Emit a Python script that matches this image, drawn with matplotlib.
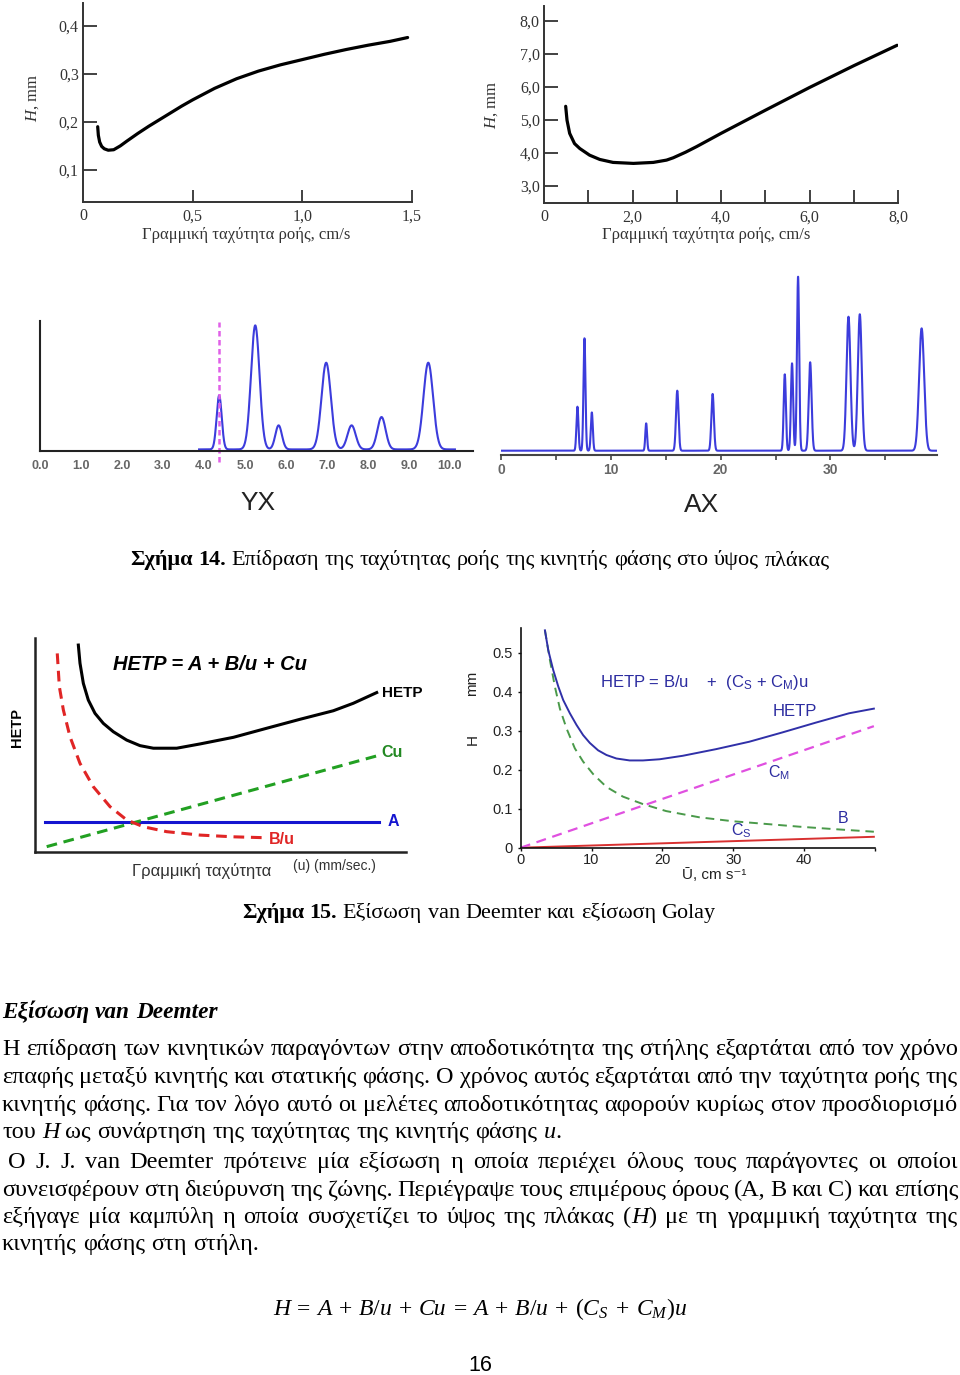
import numpy as np
import matplotlib
matplotlib.use("Agg")
import matplotlib.pyplot as plt
from matplotlib.transforms import Affine2D

plt.rcParams['mathtext.fontset'] = 'custom'
plt.rcParams['mathtext.rm'] = 'Liberation Serif'
plt.rcParams['mathtext.it'] = 'Liberation Serif:italic'
plt.rcParams['mathtext.bf'] = 'Liberation Serif:bold'
plt.rcParams['mathtext.sf'] = 'Liberation Sans'

# ============================ DATA ============================
# Fig.14 top-left: H (mm) vs linear flow rate (cm/s)
lc_u = [0.067, 0.070, 0.076, 0.085, 0.097, 0.115, 0.14, 0.17, 0.20, 0.25, 0.30, 0.35, 0.40, 0.45,
        0.50, 0.60, 0.70, 0.80, 0.90, 1.00, 1.10, 1.20, 1.30, 1.40, 1.48]
lc_h = [0.190, 0.172, 0.158, 0.149, 0.144, 0.141, 0.142, 0.150, 0.160, 0.176, 0.191, 0.205, 0.219, 0.233,
        0.246, 0.270, 0.290, 0.306, 0.319, 0.330, 0.341, 0.351, 0.360, 0.368, 0.376]
lc_xticks = [0, 0.5, 1.0, 1.5]
lc_xlabels = ['0', '0,5', '1,0', '1,5']
lc_yticks = [0.1, 0.2, 0.3, 0.4]
lc_ylabels = ['0,1', '0,2', '0,3', '0,4']

# Fig.14 top-right: H (mm) vs linear flow rate (cm/s)
gc_u = [0.49, 0.52, 0.58, 0.69, 0.81, 1.03, 1.26, 1.56, 2.02, 2.47, 2.77, 2.92, 3.20, 3.45,
        4.0, 5.0, 6.0, 7.0, 7.98]
gc_h = [5.41, 4.99, 4.59, 4.28, 4.13, 3.93, 3.80, 3.71, 3.68, 3.71, 3.78, 3.85, 4.02, 4.19,
        4.59, 5.29, 5.98, 6.64, 7.26]
gc_xticks = [0, 2.0, 4.0, 6.0, 8.0]
gc_xlabels = ['0', '2,0', '4,0', '6,0', '8,0']
gc_xminor = [1, 3, 5, 7]
gc_yticks = [3.0, 4.0, 5.0, 6.0, 7.0, 8.0]
gc_ylabels = ['3,0', '4,0', '5,0', '6,0', '7,0', '8,0']

# Chromatogram YX: peak retention, height, width
yx_pos = [4.37, 5.25, 5.82, 6.98, 7.60, 8.33, 9.47]
yx_hgt = [0.415, 0.954, 0.185, 0.667, 0.185, 0.249, 0.667]
yx_wid = [0.062, 0.104, 0.080, 0.114, 0.100, 0.100, 0.117]
yx_range = [3.88, 10.12]
yx_marker = 4.37
yx_ticks = [0, 1, 2, 3, 4, 5, 6, 7, 8, 9, 10]
yx_labels = ['0.0', '1.0', '2.0', '3.0', '4.0', '5.0', '6.0', '7.0', '8.0', '9.0', '10.0']

# Chromatogram AX
ax_pos = [6.96, 7.60, 8.27, 13.22, 16.05, 19.27, 25.84, 26.50, 27.05, 28.15, 31.64, 32.67, 38.30]
ax_hgt = [0.253, 0.646, 0.220, 0.157, 0.345, 0.326, 0.439, 0.502, 1.000, 0.508, 0.770, 0.784, 0.703]
ax_wid = [0.09, 0.09, 0.09, 0.08, 0.115, 0.115, 0.10, 0.10, 0.10, 0.13, 0.18, 0.18, 0.23]
ax_range = [0, 39.7]
ax_ticks = [0, 10, 20, 30]
ax_minor = [5, 15, 25, 35]

# Fig.15 left: van Deemter terms (arbitrary units)
vd_A_u = [0.27, 9.28]
vd_A = [1.42, 1.42]
vd_Cu_u = [0.315, 9.21]
vd_Cu = [0.25, 4.49]
vd_B_u = [0.60, 0.656, 0.764, 0.943, 1.213, 1.572, 2.021, 2.471, 2.92, 3.55, 4.45, 5.34, 6.15]
vd_B = [9.28, 7.73, 6.64, 5.39, 4.14, 3.05, 2.12, 1.50, 1.18, 0.95, 0.79, 0.71, 0.67]
vd_H_u = [1.168, 1.213, 1.303, 1.437, 1.617, 1.842, 2.111, 2.471, 2.83, 3.19, 3.82, 4.45,
          5.35, 6.24, 7.14, 8.04, 8.58, 9.21]
vd_H = [9.67, 8.82, 7.88, 7.10, 6.48, 6.01, 5.62, 5.23, 4.97, 4.85, 4.85, 5.05,
        5.36, 5.78, 6.20, 6.60, 6.95, 7.45]

# Fig.15 right: Golay terms, H (mm) vs U (cm/s)
go_H_u = [3.42, 3.89, 4.59, 5.30, 6.00, 6.94, 7.88, 8.81, 9.75, 10.92, 12.10, 13.50, 15.38,
          17.25, 19.60, 22.88, 27.57, 32.25, 36.94, 41.63, 46.32, 49.84]
go_H = [0.558, 0.507, 0.456, 0.414, 0.379, 0.345, 0.315, 0.289, 0.269, 0.250, 0.238, 0.229, 0.224,
        0.224, 0.227, 0.236, 0.253, 0.272, 0.296, 0.321, 0.345, 0.357]
go_B_u = [3.42, 4.13, 4.83, 5.53, 6.47, 7.64, 8.81, 10.22, 12.10, 14.44, 17.25, 20.53, 25.22,
          29.91, 34.60, 39.29, 43.97, 49.84]
go_B = [0.558, 0.481, 0.413, 0.357, 0.306, 0.255, 0.221, 0.189, 0.156, 0.131, 0.112, 0.094, 0.078,
        0.068, 0.061, 0.054, 0.048, 0.041]
go_CM_u = [0, 49.84]
go_CM = [0, 0.312]
go_CS_u = [0, 49.84]
go_CS = [0, 0.028]
go_xticks = [0, 10, 20, 30, 40, 50]
go_xlabels = ['0', '10', '20', '30', '40', '']
go_yticks = [0, 0.1, 0.2, 0.3, 0.4, 0.5]
go_ylabels = ['0', '0.1', '0.2', '0.3', '0.4', '0.5']

# Texts
cap14 = "#Σχήμα 14.# Επίδραση της ταχύτητας ροής της κινητής φάσης στο ύψος πλάκας"
cap15 = "#Σχήμα 15.# Εξίσωση van Deemter και εξίσωση Golay"
title = "#*Εξίσωση van Deemter*#"
par1 = ["Η επίδραση των κινητικών παραγόντων στην αποδοτικότητα της στήλης εξαρτάται από τον χρόνο",
        "επαφής μεταξύ κινητής και στατικής φάσης. Ο χρόνος αυτός εξαρτάται από την ταχύτητα ροής της",
        "κινητής φάσης. Για τον λόγο αυτό οι μελέτες αποδοτικότητας αφορούν κυρίως στον προσδιορισμό",
        "του *H* ως συνάρτηση της ταχύτητας της κινητής φάσης *u*."]
par2 = ["O J. J. van Deemter πρότεινε μία εξίσωση η οποία περιέχει όλους τους παράγοντες οι οποίοι",
        "συνεισφέρουν στη διεύρυνση της ζώνης. Περιέγραψε τους επιμέρους όρους (A, B και C) και επίσης",
        "εξήγαγε μία καμπύλη η οποία συσχετίζει το ύψος της πλάκας (*H*) με τη γραμμική ταχύτητα της",
        "κινητής φάσης στη στήλη."]
equation = "*H* = *A* + *B*/*u* + *Cu* = *A* + *B*/*u* + ($C_S$ + $C_M$)*u*"

# ============================ FIGURE ============================
W, Hh = 960, 1375
fig = plt.figure(figsize=(W / 100, Hh / 100), dpi=100)
T = Affine2D().scale(1 / W, -1 / Hh).translate(0, 1) + fig.transFigure
R = fig.canvas.get_renderer()


def add_ax(x0, y0, x1, y1):
    return fig.add_axes([x0 / W, 1 - y1 / Hh, (x1 - x0) / W, (y1 - y0) / Hh])


def ptxt(x, y, s, **kw):
    return fig.text(x, y, s, transform=T, **kw)


SERIF = 'Liberation Serif'
SANS = 'Liberation Sans'


def style_lc(a, xt, xl, yt, yl, xlen, ylen):
    for s in ['top', 'right']:
        a.spines[s].set_visible(False)
    for s in ['left', 'bottom']:
        a.spines[s].set_color('#333333')
        a.spines[s].set_linewidth(1.4)
    a.set_xticks(xt)
    a.set_xticklabels(xl, family=SERIF, fontsize=11.5, color='#333333')
    a.set_yticks(yt)
    a.set_yticklabels(yl, family=SERIF, fontsize=11.5, color='#333333')
    a.tick_params(axis='x', direction='in', length=xlen, width=1.3, color='#333333', pad=4.5)
    a.tick_params(axis='y', direction='in', length=ylen, width=1.3, color='#333333', pad=3)
    a.set_facecolor('none')


# ---------- Panel 1 ----------
a1 = add_ax(83, 3, 412, 202)
a1.plot(lc_u, lc_h, color='black', lw=2.3, solid_capstyle='round')
a1.set_xlim(0, 1.5)
a1.set_ylim(0.033, 0.448)
style_lc(a1, lc_xticks, lc_xlabels, lc_yticks, lc_ylabels, 8.7, 10)
a1.get_xticklines()[0].set_visible(False)
ptxt(33, 98, r"$H$, mm", rotation=90, ha='center', va='center', family=SERIF, fontsize=12, color='#333333')
ptxt(246.5, 235, "Γραμμική ταχύτητα ροής, cm/s", ha='center', va='center', family=SERIF, fontsize=12, color='#333333')

# ---------- Panel 2 ----------
a2 = add_ax(544, 6, 898, 203)
a2.plot(gc_u, gc_h, color='black', lw=2.3, solid_capstyle='round')
a2.set_xlim(0, 8.0)
a2.set_ylim(2.48, 8.45)
style_lc(a2, gc_xticks, gc_xlabels, gc_yticks, gc_ylabels, 9.5, 10)
a2.set_xticks(gc_xminor, minor=True)
a2.tick_params(axis='x', which='minor', direction='in', length=9.5, width=1.3, color='#333333')
a2.get_xticklines()[0].set_visible(False)
ptxt(492, 105, r"$H$, mm", rotation=90, ha='center', va='center', family=SERIF, fontsize=12, color='#333333')
ptxt(706.5, 235, "Γραμμική ταχύτητα ροής, cm/s", ha='center', va='center', family=SERIF, fontsize=12, color='#333333')

# ---------- Panel 3: YX chromatogram ----------
a3 = add_ax(40, 320.7, 473, 450.7)
t3 = np.linspace(yx_range[0], yx_range[1], 2000)
sig3 = np.zeros_like(t3)
for p, h, w in zip(yx_pos, yx_hgt, yx_wid):
    sig3 += h * np.exp(-0.5 * ((t3 - p) / w) ** 2)
a3.plot(t3, sig3 + 0.01, color='#3c3cdc', lw=1.5)
a3.plot([yx_marker, yx_marker], [-0.085, 0.99], color='#e060e8', lw=1.8, ls=(0, (2.2, 1.4)), clip_on=False)
a3.set_xlim(0, 433 / 41)
a3.set_ylim(0, 1)
for s in ['top', 'right']:
    a3.spines[s].set_visible(False)
for s in ['left', 'bottom']:
    a3.spines[s].set_color('#222222')
    a3.spines[s].set_linewidth(1.5)
a3.set_yticks([])
a3.set_xticks(yx_ticks)
a3.set_xticklabels(yx_labels, family=SANS, fontsize=9, fontweight='bold', color='#666666')
a3.tick_params(axis='x', length=0, pad=6.5)
a3.set_facecolor('none')
ptxt(258, 503, "YX", ha='center', va='center', family=SANS, fontsize=19, color='#222222')

# ---------- Panel 4: AX chromatogram ----------
a4 = add_ax(501, 269.7, 937, 455)
t4 = np.linspace(ax_range[0], ax_range[1], 6000)
sig4 = np.zeros_like(t4)
for p, h, w in zip(ax_pos, ax_hgt, ax_wid):
    sig4 += h * np.exp(-0.5 * ((t4 - p) / w) ** 2)
a4.plot(t4, sig4, color='#3c3cdc', lw=1.5)
a4.set_xlim(0, 39.7)
a4.set_ylim(-0.0247, 1.04)
for s in ['top', 'right', 'left']:
    a4.spines[s].set_visible(False)
a4.spines['bottom'].set_color('#444444')
a4.spines['bottom'].set_linewidth(1.5)
a4.set_yticks([])
a4.set_xticks(ax_ticks)
a4.set_xticklabels([str(v) for v in ax_ticks], family=SANS, fontsize=10, fontweight='bold', color='#666666')
a4.set_xticks(ax_minor, minor=True)
a4.tick_params(axis='x', which='both', direction='out', length=3.6, width=1.2, color='#444444', pad=2)
a4.set_facecolor('none')
ptxt(702, 505, "AX", ha='center', va='center', family=SANS, fontsize=19, color='#222222')

# ---------- Panel 5: van Deemter ----------
a5 = add_ax(35, 638, 406, 852)
a5.plot(vd_A_u, vd_A, color='#1515d0', lw=2.2)
a5.plot(vd_Cu_u, vd_Cu, color='#22a022', lw=2.2, ls=(0, (3.5, 2.2)))
a5.plot(vd_B_u, vd_B, color='#e02525', lw=2.2, ls=(0, (3.5, 2.2)))
a5.plot(vd_H_u, vd_H, color='black', lw=2.2)
a5.set_xlim(0, 10)
a5.set_ylim(0, 10)
for s in ['top', 'right']:
    a5.spines[s].set_visible(False)
for s in ['left', 'bottom']:
    a5.spines[s].set_color('#222222')
    a5.spines[s].set_linewidth(1.8)
a5.set_xticks([])
a5.set_yticks([])
a5.set_facecolor('none')
ptxt(113, 665, "HETP = A + B/u + Cu", ha='left', va='center', family=SANS, fontsize=14.5,
     fontstyle='italic', fontweight='bold', color='black')
ptxt(382, 693, "HETP", ha='left', va='center', family=SANS, fontsize=11, fontweight='bold', color='black')
ptxt(381, 753, "Cu", ha='left', va='center', family=SANS, fontsize=11.5, fontweight='bold', color='#228822')
ptxt(388, 822, "A", ha='left', va='center', family=SANS, fontsize=11.5, fontweight='bold', color='#1515d0')
ptxt(269, 840, "B/u", ha='left', va='center', family=SANS, fontsize=11.5, fontweight='bold', color='#e02525')
ptxt(17, 728, "HETP", rotation=90, ha='center', va='center', family=SANS, fontsize=10.5, fontweight='bold', color='black')
ptxt(132, 871, "Γραμμική ταχύτητα", ha='left', va='center', family=SANS, fontsize=12, color='#333333')
ptxt(293, 866, "(u) (mm/sec.)", ha='left', va='center', family=SANS, fontsize=10, color='#333333')

# ---------- Panel 6: Golay ----------
a6 = add_ax(520.7, 628, 875, 847.7)
a6.plot(go_CS_u, go_CS, color='#d83030', lw=1.4)
a6.plot(go_CM_u, go_CM, color='#e050e0', lw=1.6, ls=(0, (4.5, 3)))
a6.plot(go_B_u, go_B, color='#4a9a4a', lw=1.4, ls=(0, (4.5, 3)))
a6.plot(go_H_u, go_H, color='#3030a8', lw=1.4)
a6.set_xlim(0, 50)
a6.set_ylim(0, 0.564)
for s in ['top', 'right']:
    a6.spines[s].set_visible(False)
for s in ['left', 'bottom']:
    a6.spines[s].set_color('#111111')
    a6.spines[s].set_linewidth(1.2)
a6.set_xticks(go_xticks)
a6.set_xticklabels(go_xlabels, family=SANS, fontsize=10.5, color='#222222')
a6.set_yticks(go_yticks)
a6.set_yticklabels(go_ylabels, family=SANS, fontsize=10.5, color='#222222')
a6.tick_params(axis='both', direction='out', length=2.5, width=1, color='#111111')
a6.tick_params(axis='x', pad=1.5)
a6.tick_params(axis='y', pad=3)
a6.set_facecolor('none')
BLUE6 = '#2c2ca0'
ptxt(600, 683, r"HETP = B/u    +  (C$_\mathsf{S}$ + C$_\mathsf{M}$)u", ha='left', va='center',
     family=SANS, fontsize=12, color=BLUE6)
ptxt(773, 712, "HETP", ha='left', va='center', family=SANS, fontsize=12, color=BLUE6)
ptxt(768, 773, r"C$_\mathsf{M}$", ha='left', va='center', family=SANS, fontsize=11.5, color=BLUE6)
ptxt(838, 819, "B", ha='left', va='center', family=SANS, fontsize=11.5, color=BLUE6)
ptxt(731, 831, r"C$_\mathsf{S}$", ha='left', va='center', family=SANS, fontsize=11.5, color=BLUE6)
ptxt(473, 740, "H", rotation=90, ha='center', va='center', family=SANS, fontsize=11, color='#222222')
ptxt(472, 683, "mm", rotation=90, ha='center', va='center', family=SANS, fontsize=11, color='#222222')
ptxt(682, 875, "Ū, cm s⁻¹", ha='left', va='center', family=[SANS, 'DejaVu Sans'], fontsize=11, color='#222222')


# ---------- Text helpers ----------
def parse(line):
    words = []
    it = False
    bf = False
    for w in line.split(' '):
        segs = []
        buf = ''
        for ch in w:
            if ch in '*#':
                if buf:
                    segs.append((buf, it, bf))
                    buf = ''
                if ch == '*':
                    it = not it
                else:
                    bf = not bf
            else:
                buf += ch
        if buf:
            segs.append((buf, it, bf))
        words.append(segs)
    return words


def kwseg(size, it, bf):
    return dict(fontsize=size, family=SERIF, fontstyle='italic' if it else 'normal',
                fontweight='bold' if bf else 'normal', color='black')


def measure(s, **kw):
    t = fig.text(0, 0, s, **kw)
    w = t.get_window_extent(R).width
    t.remove()
    return w


def draw_line(x0, base, line, size, end=None, mode='left'):
    words = parse(line)
    widths = [sum(measure(p, **kwseg(size, it, bf)) for p, it, bf in w) for w in words]
    sp = measure('a a', **kwseg(size, False, False)) - measure('aa', **kwseg(size, False, False))
    if mode == 'fit' and end is not None:
        nat = sum(widths) + sp * (len(words) - 1)
        size = size * (end - x0) / nat
        widths = [sum(measure(p, **kwseg(size, it, bf)) for p, it, bf in w) for w in words]
        sp = measure('a a', **kwseg(size, False, False)) - measure('aa', **kwseg(size, False, False))
    if mode == 'justify' and end is not None and len(words) > 1:
        sp = (end - x0 - sum(widths)) / (len(words) - 1)
    x = x0
    for w, wd in zip(words, widths):
        xx = x
        for p, it, bf in w:
            ptxt(xx, base, p, ha='left', va='baseline', **kwseg(size, it, bf))
            xx += measure(p, **kwseg(size, it, bf))
        x += wd + sp


BODY = 17.5
draw_line(130, 565, cap14, 16, end=830, mode='fit')
draw_line(242, 918, cap15, 16, end=717, mode='fit')
draw_line(2, 1018, title, 16, end=217, mode='fit')
base1 = [1055, 1083, 1111, 1138]
for i, ln in enumerate(par1):
    draw_line(2, base1[i], ln, BODY, end=958, mode='justify' if i < 3 else 'left')
base2 = [1168, 1196, 1223, 1250]
for i, ln in enumerate(par2):
    draw_line(8 if i == 0 else 2, base2[i], ln, BODY, end=958, mode='justify' if i < 3 else 'left')

draw_line(273, 1315, equation, 17, end=687, mode='justify')
ptxt(480, 1371, "16", ha='center', va='baseline', family=SANS, fontsize=15.5, color='black')

fig.savefig("out.png", dpi=100, facecolor='white')
